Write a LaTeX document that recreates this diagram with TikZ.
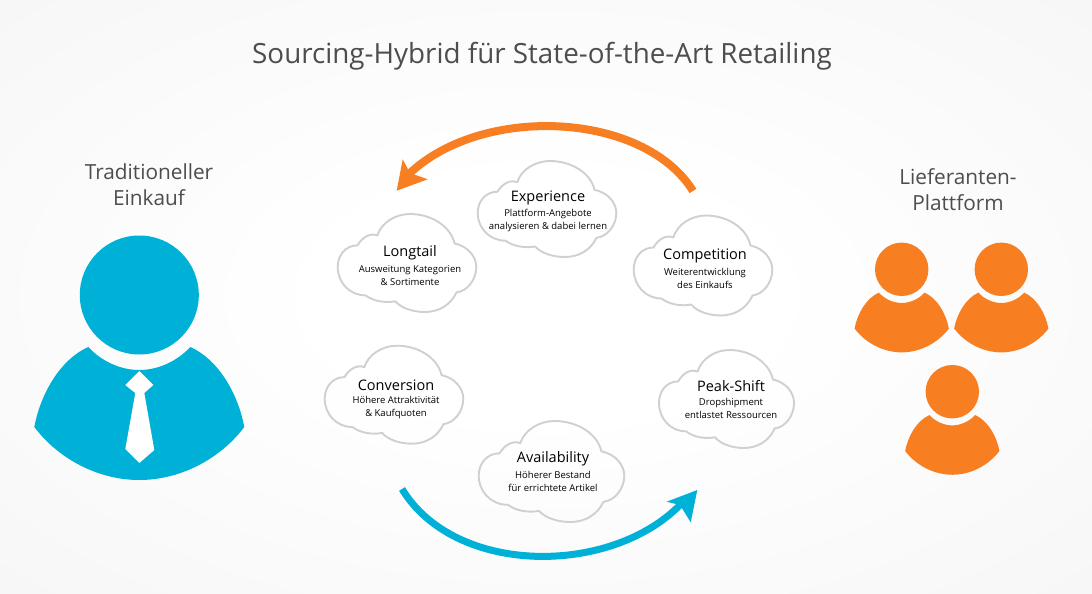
\documentclass[tikz,border=0pt]{standalone}
\usepackage{fontspec}
\setmainfont{Open Sans}
\definecolor{teal1}{HTML}{00B1D7}
\definecolor{orange1}{HTML}{F77F21}
\definecolor{cloudline}{HTML}{D0D0D0}
\definecolor{headtext}{HTML}{4D4D4D}
\pgfdeclareradialshading{bgshade}{\pgfpoint{0bp}{0bp}}{%
  color(0bp)=(white); color(10bp)=(white); color(50bp)=(black!5);
  color(71bp)=(black!7); color(100bp)=(black!7)}
\tikzset{
  cloudstroke/.style={draw=cloudline,line width=1.9pt,line join=round},
  titletext/.style={inner sep=0pt,font=\fontsize{27.8}{34}\selectfont,text=headtext},
  sidetext/.style={inner sep=0pt,align=center,font=\fontsize{20.8}{26}\selectfont,text=headtext},
  cloudtitle/.style={inner sep=0pt,font=\fontsize{14.5}{17}\selectfont,text=black},
  cloudsub/.style={inner sep=0pt,align=center,font=\fontsize{9.5}{13.6}\selectfont,text=black},
  bluearrow/.style={draw=teal1,line width=7pt},
  orangearrow/.style={draw=orange1,line width=8pt},
}
\newcommand{\cloudshape}[9]{%
  % name, cx, cy, xscale, yscale, tx, ty, title, sub
  \begin{scope}[shift={(#2,#3)},xscale=#4,yscale=#5]
    \draw[cloudstroke] (-50,-18)
      .. controls (-45,-27) and (-36,-31) .. (-30,-28)
      .. controls (-26,-41) and (-12,-50) .. (3,-50)
      .. controls (24,-50) and (44,-38) .. (48,-20)
      .. controls (62,-17) and (70,-6) .. (70,4)
      .. controls (70,18) and (60,29) .. (50,30)
      .. controls (44,43) and (32,50) .. (18,50)
      .. controls (6,50) and (-6,46) .. (-12,39)
      .. controls (-22,41) and (-34,39) .. (-42,33)
      .. controls (-58,33) and (-70,20) .. (-70,4)
      .. controls (-70,-8) and (-62,-18) .. (-50,-18) -- cycle;
  \end{scope}
  \node[cloudtitle] (#1t) at (#6,#7+2) {#8};
  \node[cloudsub] (#1s) at (#6,#7+24.5) {#9};
}
\newcommand{\personshape}[4]{%
  % cx, cy, scale, colour
  \begin{scope}[shift={(#1,#2)},scale=#3]
    \fill[#4] (0,0) circle[radius=59.5];
    \fill[#4] (-51,52)
      .. controls (-37,67) and (-18,75) .. (0,75)
      .. controls (18,75) and (37,67) .. (51,52)
      .. controls (80,65) and (99,100) .. (105,132)
      .. controls (80,165) and (40,185) .. (0,185)
      .. controls (-40,185) and (-80,165) .. (-105,132)
      .. controls (-99,100) and (-80,65) .. (-51,52) -- cycle;
  \end{scope}
}
\begin{document}
\begin{tikzpicture}[x=1pt,y=-1pt]
\useasboundingbox (0,0) rectangle (1092,594);
\shade[shading=bgshade] (0,0) rectangle (1092,594);

\node[titletext] (title) at (542,56.5) {Sourcing-Hybrid für State-of-the-Art Retailing};
\node[sidetext] (trad) at (149,185) {Traditioneller\\Einkauf};
\node[sidetext] (lief) at (958,190) {Lieferanten-\\Plattform};

\personshape{139.3}{295}{1}{teal1}
\fill[white] (139.3,371) -- (153.3,385) -- (144.3,393) -- (154.3,450) -- (139.3,463) -- (125.3,449) -- (135.3,393) -- (125.3,385) -- cycle;
\personshape{901.7}{269.3}{0.449}{orange1}
\personshape{1001.3}{269.3}{0.449}{orange1}
\personshape{952.3}{391.7}{0.449}{orange1}

\cloudshape{longtail}{407}{263}{0.99}{0.98}{410}{251}{Longtail}{Ausweitung Kategorien\\\& Sortimente}
\cloudshape{experience}{547}{209}{0.99}{0.96}{548}{196}{Experience}{Plattform-Angebote\\analysieren \& dabei lernen}
\cloudshape{competition}{703}{265.5}{0.99}{1.0}{705}{254}{Competition}{Weiterentwicklung\\des Einkaufs}
\cloudshape{conversion}{394}{394.7}{0.99}{0.98}{396}{383}{Conversion}{Höhere Attraktivität\\\& Kaufquoten}
\cloudshape{peak}{726.5}{399}{0.965}{0.98}{731}{384}{Peak-Shift}{Dropshipment\\entlastet Ressourcen}
\cloudshape{avail}{551.5}{471.5}{1.04}{1.01}{553}{457}{Availability}{Höherer Bestand\\für errichtete Artikel}

\coordinate (oA) at (693,191);
\coordinate (oB) at (410,173);
\coordinate (oT) at (396.7,190.7);
\draw[orangearrow] (oA) .. controls (644,112) and (484,104) .. (oB);
\fill[orange1] (oT) -- (402.7,159.3) -- (oB) -- (427.7,179.3) -- cycle;

\coordinate (bA) at (402,489);
\coordinate (bB) at (680,505);
\coordinate (bT) at (697.3,490);
\draw[bluearrow] (bA) .. controls (455,576) and (610,576) .. (bB);
\fill[teal1] (bT) -- (666.7,501.7) -- (bB) -- (690.7,522.3) -- cycle;
\end{tikzpicture}
\end{document}
